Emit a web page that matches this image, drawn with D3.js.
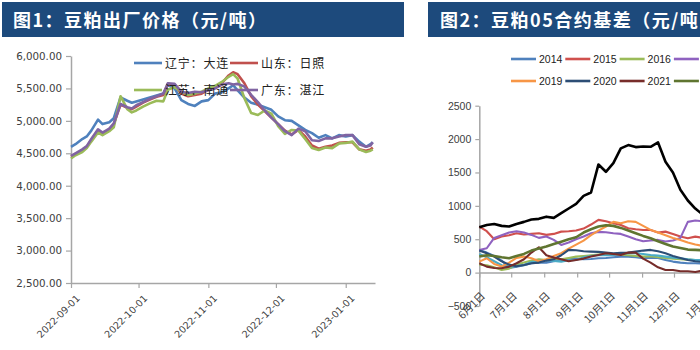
<!DOCTYPE html>
<html><head><meta charset="utf-8">
<script src="https://cdn.jsdelivr.net/npm/d3@7"></script>
<style>body{margin:0;background:#fff;} svg{display:block;}</style>
</head><body><svg id="c" width="700" height="350"></svg>
<script>
// ---------- Titles ----------
const leftTitle = "图1：豆粕出厂价格（元/吨）";
const rightTitle = "图2：豆粕05合约基差（元/吨）";

// ---------- Chart 1 data ----------
const leftDates = ["2022-09-01","2022-09-03","2022-09-06","2022-09-08","2022-09-10","2022-09-13","2022-09-15","2022-09-18","2022-09-20","2022-09-23","2022-09-26","2022-09-28","2022-09-30","2022-10-03","2022-10-06","2022-10-09","2022-10-12","2022-10-14","2022-10-17","2022-10-20","2022-10-23","2022-10-26","2022-10-29","2022-11-01","2022-11-04","2022-11-07","2022-11-10","2022-11-12","2022-11-14","2022-11-17","2022-11-20","2022-11-23","2022-11-26","2022-11-29","2022-12-02","2022-12-05","2022-12-08","2022-12-11","2022-12-14","2022-12-17","2022-12-20","2022-12-23","2022-12-26","2022-12-29","2023-01-01","2023-01-04","2023-01-07","2023-01-10","2023-01-12","2023-01-13"];
const leftNames = ["辽宁：大连","山东：日照","江苏：南通","广东：湛江"];
const liaoning = [4600,4640,4720,4760,4850,5020,4950,4980,5040,5360,5310,5280,5300,5330,5360,5390,5420,5550,5500,5320,5260,5230,5300,5320,5420,5440,5500,5550,5470,5360,5280,5250,5210,5170,5070,5010,5000,4930,4860,4810,4740,4780,4730,4780,4760,4780,4680,4600,4640,4670];
const shandong = [4450,4490,4540,4600,4700,4850,4800,4870,4950,5250,5200,5180,5220,5280,5330,5370,5400,5570,5550,5420,5380,5400,5420,5480,5520,5580,5700,5750,5720,5580,5380,5250,5150,5050,4950,4850,4790,4860,4760,4620,4570,4600,4620,4660,4670,4670,4560,4540,4560,4590];
const jiangsu = [4420,4470,4520,4580,4680,4820,4780,4840,4900,5380,5180,5130,5160,5220,5270,5310,5300,5480,5520,5450,5400,5420,5450,5500,5540,5600,5680,5720,5650,5350,5120,5090,5160,5110,4920,4800,4860,4850,4720,4580,4550,4590,4580,4650,4660,4680,4560,4520,4540,4560];
const guangdong = [4460,4500,4560,4610,4720,4870,4820,4880,4960,5260,5210,5190,5240,5290,5340,5380,5420,5580,5570,5450,5430,5450,5440,5470,5500,5560,5580,5560,5570,5530,5400,5290,5160,5050,4950,4840,4780,4880,4840,4700,4690,4730,4730,4760,4780,4780,4640,4600,4620,4670];
const leftColors = ["#4F81BD","#C0504D","#9BBB59","#8064A2"];
const leftYTicks = [2500,3000,3500,4000,4500,5000,5500,6000];
const leftXTicks = ["2022-09-01","2022-10-01","2022-11-01","2022-12-01","2023-01-01"];

// ---------- Chart 2 data ----------
const rightDates = ["2022-06-01","2022-06-08","2022-06-15","2022-06-22","2022-06-29","2022-07-06","2022-07-13","2022-07-20","2022-07-27","2022-08-03","2022-08-10","2022-08-17","2022-08-24","2022-08-31","2022-09-07","2022-09-14","2022-09-21","2022-09-28","2022-10-05","2022-10-12","2022-10-19","2022-10-26","2022-11-02","2022-11-09","2022-11-16","2022-11-23","2022-11-30","2022-12-07","2022-12-14","2022-12-21","2022-12-28","2023-01-04"];
const years = ["2014","2015","2016","2017","2018","2019","2020","2021","2022","2023"];
const b2014 = [340,300,250,180,70,90,110,140,150,150,170,190,200,210,200,205,215,220,230,240,240,230,215,225,220,190,165,150,140,140,135,130];
const b2015 = [690,620,500,540,560,590,570,580,590,565,580,614,620,630,660,720,790,770,740,714,664,650,639,639,600,614,580,540,514,539,520,500];
const b2016 = [120,110,80,40,60,120,150,180,200,190,210,200,220,240,250,260,270,280,275,270,260,250,240,245,230,220,210,200,195,190,190,185];
const b2017 = [340,365,520,560,600,620,600,565,520,540,490,414,450,500,540,590,610,605,590,580,540,500,470,480,490,465,480,520,760,780,770,760];
const b2018 = [280,230,170,110,90,100,115,160,175,190,175,165,185,190,230,250,265,260,265,280,290,290,280,265,255,240,225,215,200,190,185,180];
const b2019 = [165,215,130,90,150,220,240,215,170,200,250,290,360,420,480,560,630,690,760,740,770,760,700,640,600,560,520,490,450,420,400,390];
const b2020 = [330,290,240,170,120,95,115,140,150,180,200,260,340,335,320,315,310,300,290,295,300,315,330,340,320,290,250,220,190,170,160,150];
const b2021 = [140,90,70,65,90,140,200,300,380,260,225,200,170,190,210,240,265,290,280,265,300,300,210,150,80,40,40,20,20,10,30,40];
const b2022 = [240,260,250,230,215,250,280,330,360,390,430,464,500,530,600,650,690,710,700,670,630,590,550,514,470,430,390,370,345,340,335,330];
const b2023 = [680,714,729,700,690,729,760,795,805,838,820,890,960,1030,1150,1200,1620,1510,1640,1860,1910,1880,1890,1885,1950,1660,1500,1240,1080,960,870,840];
const rightColors = ["#4F81BD","#D0504D","#9BBB59","#8F62C0","#4BACC6","#F79646","#2C4D75","#772C2A","#5F7530","#000000"];
const rightYTicks = [-500,0,500,1000,1500,2000,2500];
const rightXTicks = ["2022-06-01","2022-07-01","2022-08-01","2022-09-01","2022-10-01","2022-11-01","2022-12-01","2023-01-01"];

// ---------- Drawing ----------
const parse = d3.timeParse("%Y-%m-%d");
const svg = d3.select("#c");
const headColor = "#1d4a7c";
const axisColor = "#a6a6a6";
const labelColor = "#404040";
const cjk = "'Noto Sans CJK SC','Noto Sans',sans-serif";

// headers
svg.append("rect").attr("x",2).attr("y",2).attr("width",402).attr("height",35).attr("fill",headColor);
svg.append("rect").attr("x",428).attr("y",2).attr("width",280).attr("height",35).attr("fill",headColor);
svg.append("text").attr("x",13).attr("y",27).attr("fill","#fff").attr("font-family",cjk)
  .attr("font-weight","bold").attr("font-size",18).attr("letter-spacing",1.5).text(leftTitle);
svg.append("text").attr("x",440).attr("y",27).attr("fill","#fff").attr("font-family",cjk)
  .attr("font-weight","bold").attr("font-size",18).attr("letter-spacing",1.5).text(rightTitle);

function styleAxis(g){
  g.select(".domain").attr("stroke",axisColor).attr("stroke-width",1.5);
  g.selectAll(".tick line").attr("stroke",axisColor).attr("stroke-width",1.2);
}

// ----- Chart 1 -----
const xL = d3.scaleTime().domain([parse("2022-09-01"), parse("2023-01-14")]).range([71,375]);
const yL = d3.scaleLinear().domain([2500,6000]).range([283,56]);

const gyL = svg.append("g").attr("transform","translate(71,0)")
  .call(d3.axisLeft(yL).tickValues(leftYTicks).tickFormat(d3.format(",.2f")).tickSize(5).tickSizeOuter(0).tickPadding(4));
styleAxis(gyL);
gyL.selectAll("text").attr("font-family","'DejaVu Sans',sans-serif").attr("font-size",10.3).attr("fill",labelColor);

const gxL = svg.append("g").attr("transform","translate(0,283)")
  .call(d3.axisBottom(xL).tickValues(leftXTicks.map(parse)).tickFormat(d3.timeFormat("%Y-%m-%d")).tickSize(5).tickSizeOuter(0));
styleAxis(gxL);
gxL.selectAll("text").attr("font-family","'DejaVu Sans',sans-serif").attr("font-size",9.6).attr("fill",labelColor)
  .attr("x",0).attr("y",0).attr("dy",0).attr("text-anchor","end").attr("transform","translate(9,16) rotate(-45)");

const leftSeries = [liaoning, shandong, jiangsu, guangdong].map((vals,i)=>({
  name:leftNames[i], color:leftColors[i],
  pts: leftDates.map((d,j)=>({date:parse(d), v:vals[j]}))
}));
const lineL = d3.line().x(d=>xL(d.date)).y(d=>yL(d.v));
svg.append("g").selectAll("path").data(leftSeries).join("path")
  .attr("d",d=>lineL(d.pts)).attr("fill","none").attr("stroke",d=>d.color)
  .attr("stroke-width",2.6).attr("stroke-linejoin","round");

// legend 1
const legL = svg.append("g");
leftSeries.forEach((s,i)=>{
  const lx = i%2===0 ? 134 : 230;
  const ly = i<2 ? 63 : 90;
  legL.append("line").attr("x1",lx).attr("x2",lx+28).attr("y1",ly).attr("y2",ly)
    .attr("stroke",s.color).attr("stroke-width",2.6);
  legL.append("text").attr("x",lx+31).attr("y",ly+4.5).attr("font-family",cjk)
    .attr("font-size",12).attr("letter-spacing",0.8).attr("fill","#222").text(s.name);
});

// ----- Chart 2 -----
const x0R = 479.3, pxDay = (674-479.3)/183;
const xR = d3.scaleTime().domain([parse("2022-06-01"), parse("2023-01-25")]).range([x0R, x0R+238*pxDay]);
const yR = d3.scaleLinear().domain([-500,2500]).range([306,105.7]);
const rf = "'Liberation Sans',Arial,sans-serif";

const gyR = svg.append("g").attr("transform",`translate(${x0R},0)`)
  .call(d3.axisLeft(yR).tickValues(rightYTicks).tickFormat(d3.format("d")).tickSize(4).tickSizeOuter(0).tickPadding(4));
styleAxis(gyR);
gyR.selectAll("text").attr("font-family",rf).attr("font-size",10.5).attr("fill",labelColor);

const gxR = svg.append("g").attr("transform",`translate(0,${yR(0)})`)
  .call(d3.axisBottom(xR).tickValues(rightXTicks.map(parse)).tickFormat(d=>`${d.getMonth()+1}月1日`).tickSize(5).tickSizeOuter(0));
styleAxis(gxR);
gxR.selectAll("text").attr("font-family",cjk).attr("font-size",10.5).attr("fill",labelColor)
  .attr("x",0).attr("y",0).attr("dy",0).attr("text-anchor","end").attr("transform","translate(6,24) rotate(-45)");

const rightVals = [b2014,b2015,b2016,b2017,b2018,b2019,b2020,b2021,b2022,b2023];
const rightSeries = rightVals.map((vals,i)=>({
  name:years[i], color:rightColors[i],
  pts: rightDates.map((d,j)=>({date:parse(d), v:vals[j]}))
}));
const lineR = d3.line().x(d=>xR(d.date)).y(d=>yR(d.v));
svg.append("g").selectAll("path").data(rightSeries).join("path")
  .attr("d",d=>lineR(d.pts)).attr("fill","none").attr("stroke",d=>d.color)
  .attr("stroke-width",(d,i)=> i>=8 ? 2.6 : 2.1).attr("stroke-linejoin","round");

// legend 2
const legR = svg.append("g");
rightSeries.forEach((s,i)=>{
  const lx = 511 + (i%5)*54.3;
  const ly = i<5 ? 59 : 81;
  legR.append("line").attr("x1",lx).attr("x2",lx+25).attr("y1",ly).attr("y2",ly)
    .attr("stroke",s.color).attr("stroke-width",2.6);
  legR.append("text").attr("x",lx+28).attr("y",ly+4).attr("font-family",rf)
    .attr("font-size",10.5).attr("fill","#222").text(s.name);
});
</script></body></html>
